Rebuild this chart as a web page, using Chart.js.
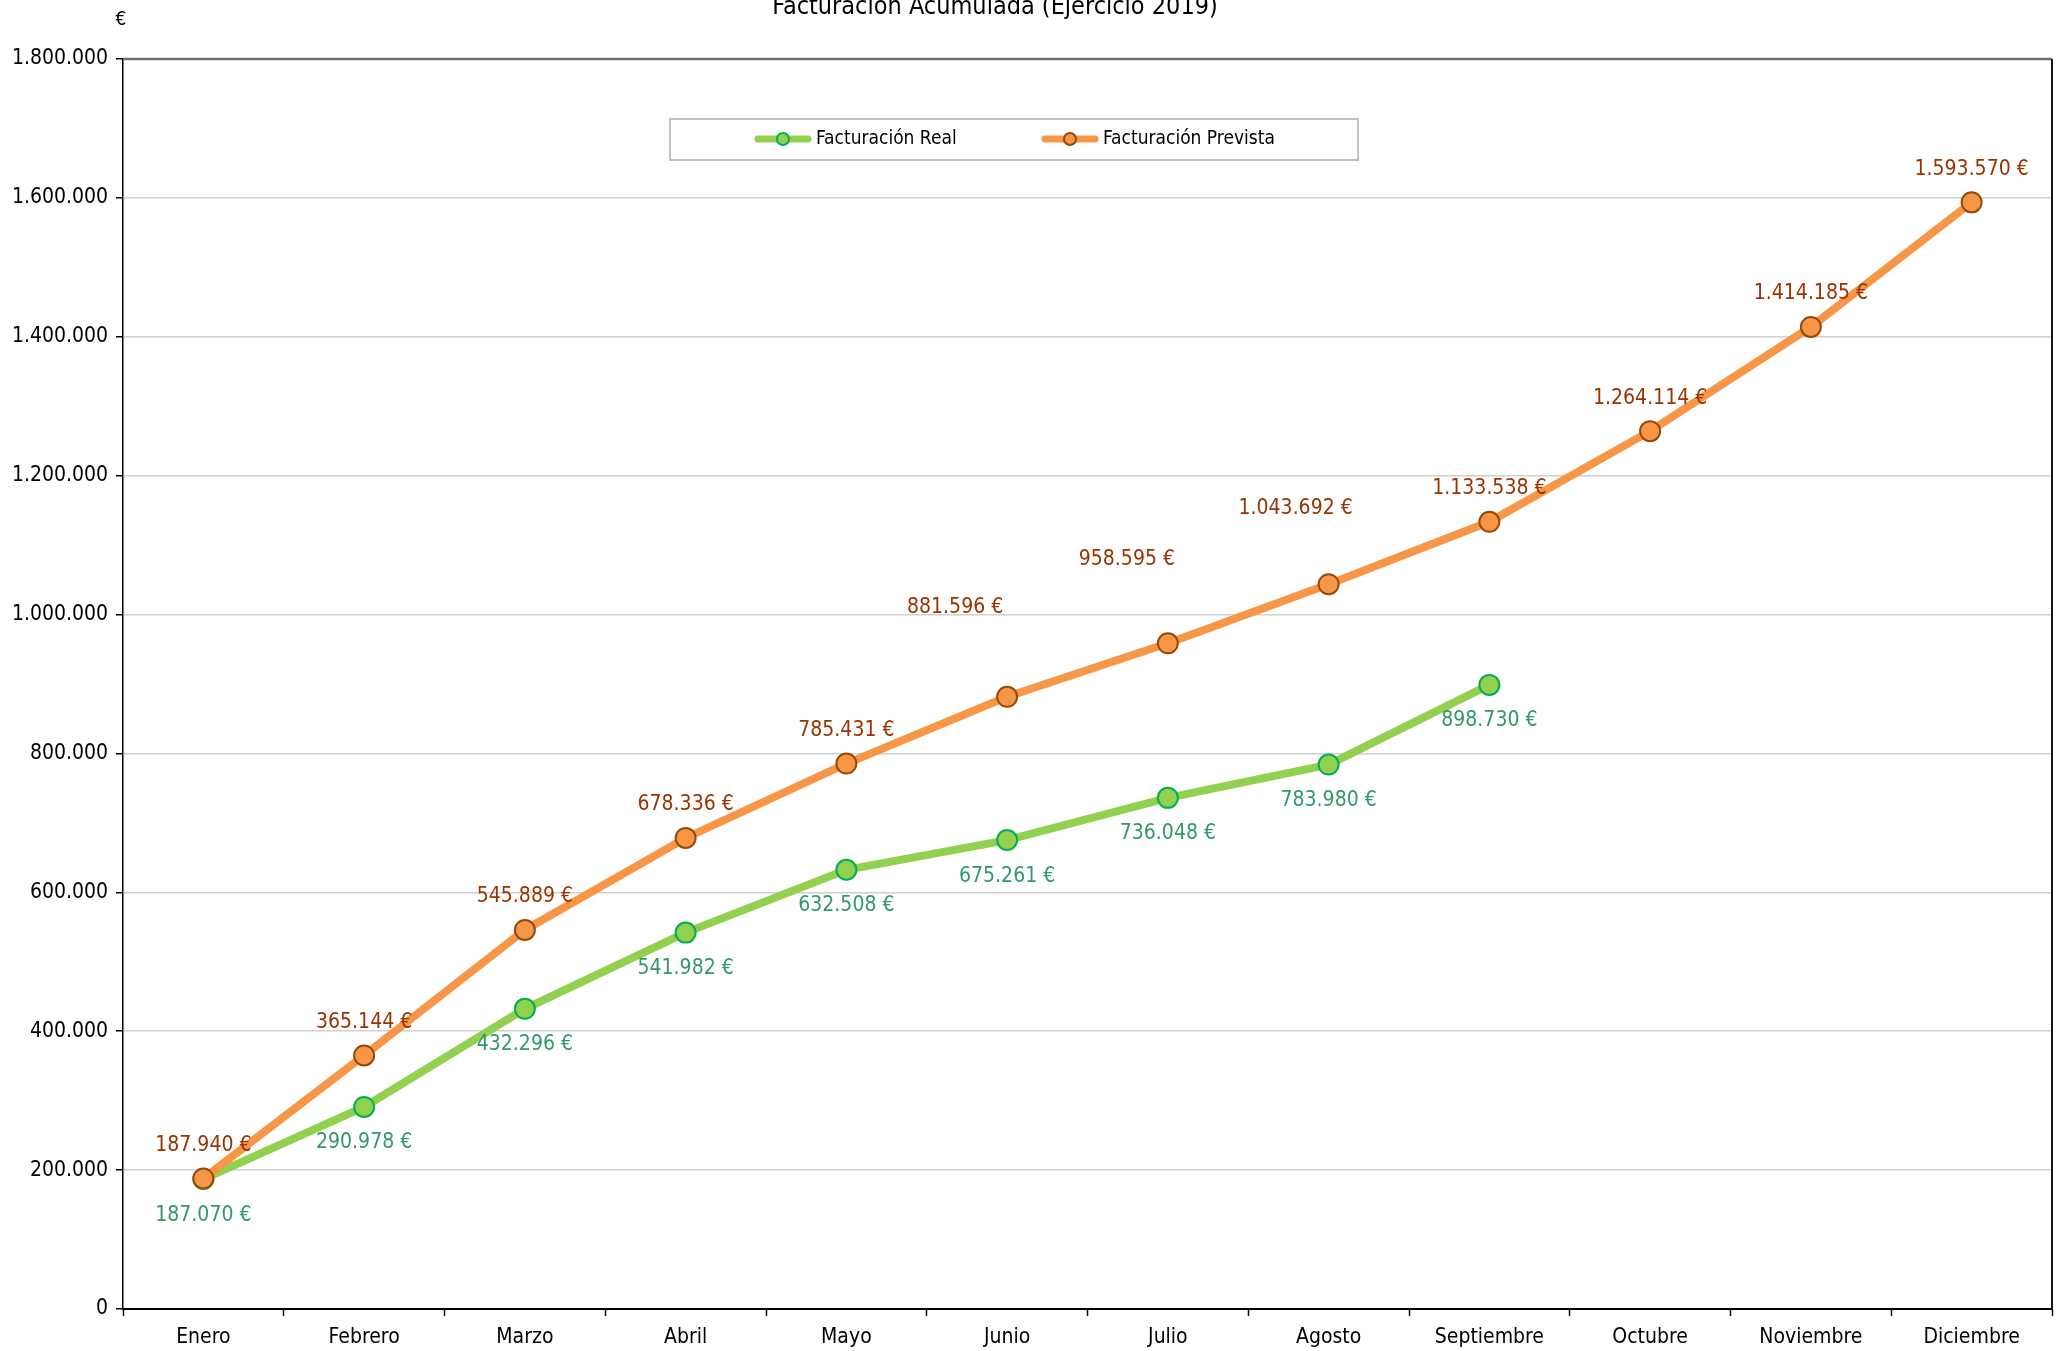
<!DOCTYPE html>
<html>
<head>
<meta charset="utf-8">
<script src="https://cdn.jsdelivr.net/npm/chart.js@4/dist/chart.umd.min.js"></script>
<style>
  html, body { margin: 0; padding: 0; background: #fff; }
  #wrap { width: 2067px; height: 1351px; }
</style>
</head>
<body>
<div id="wrap"><canvas id="chart" width="2067" height="1351"></canvas></div>
<script>
'use strict'
const FONT = '"DejaVu Sans Condensed", "DejaVu Sans", "Liberation Sans", sans-serif'

const meses = ['Enero', 'Febrero', 'Marzo', 'Abril', 'Mayo', 'Junio', 'Julio', 'Agosto', 'Septiembre', 'Octubre', 'Noviembre', 'Diciembre']
const real = [187070, 290978, 432296, 541982, 632508, 675261, 736048, 783980, 898730, null, null, null]
const prevista = [187940, 365144, 545889, 678336, 785431, 881596, 958595, 1043692, 1133538, 1264114, 1414185, 1593570]

// label offsets relative to point (some labels were moved by hand in the original)
const offReal = meses.map(() => [0, 36])
const offPrev = meses.map(() => [0, -33])
offPrev[5] = [-52, -89]
offPrev[6] = [-41, -84]
offPrev[7] = [-33, -76]

const miles = v => String(Math.round(v)).replace(/\B(?=(\d{3})+(?!\d))/g, '.')

const extras = {
  id: 'extras',
  afterDatasetsDraw(chart) {
    const c = chart.ctx
    const a = chart.chartArea
    c.save()
    // plot border top / right
    c.strokeStyle = '#707070'
    c.lineWidth = 2.5
    c.beginPath(); c.moveTo(a.left, a.top); c.lineTo(a.right, a.top); c.stroke()
    c.strokeStyle = '#1a1a1a'
    c.lineWidth = 2
    c.beginPath(); c.moveTo(a.right, a.top); c.lineTo(a.right, a.bottom); c.stroke()

    // data labels
    c.font = '21px ' + FONT
    c.textAlign = 'center'
    c.textBaseline = 'middle'
    const sets = [[0, '#339966', offReal], [1, '#993300', offPrev]]
    sets.forEach(([i, col, off]) => {
      const ds = chart.data.datasets[i]
      chart.getDatasetMeta(i).data.forEach((p, j) => {
        if (ds.data[j] == null) return
        c.fillStyle = col
        c.fillText(miles(ds.data[j]) + ' €', p.x + off[j][0], p.y + off[j][1])
      })
    })

    // title and unit
    c.fillStyle = '#000'
    c.textBaseline = 'alphabetic'
    c.font = '25px ' + FONT
    c.fillText('Facturación Acumulada (Ejercicio 2019)', 995, 14)
    c.font = '19px ' + FONT
    c.textBaseline = 'middle'
    c.fillText('€', 121, 20)

    // legend
    c.fillStyle = '#fff'
    c.fillRect(670, 119, 688, 41)
    c.strokeStyle = '#c0c0c0'
    c.lineWidth = 2
    c.strokeRect(670, 119, 688, 41)
    const items = [
      ['Facturación Real', '#92d050', '#00b050', 758],
      ['Facturación Prevista', '#f79646', '#984807', 1045],
    ]
    items.forEach(([txt, line, edge, x]) => {
      const y = 139
      c.strokeStyle = line
      c.lineWidth = 7
      c.lineCap = 'round'
      c.beginPath(); c.moveTo(x, y); c.lineTo(x + 50, y); c.stroke()
      c.fillStyle = line
      c.strokeStyle = edge
      c.lineWidth = 2
      c.beginPath(); c.arc(x + 25, y, 6, 0, Math.PI * 2); c.fill(); c.stroke()
      c.fillStyle = '#000'
      c.textAlign = 'left'
      c.font = '19px ' + FONT
      c.fillText(txt, x + 58, y)
    })
    c.restore()
  },
}

const ctx = document.getElementById('chart').getContext('2d')

const data = {
  labels: meses,
  datasets: [
    {
      label: 'Facturación Real',
      data: real,
      borderColor: '#92d050',
      backgroundColor: '#92d050',
      borderWidth: 8,
      pointRadius: 10,
      pointBorderWidth: 2,
      pointBorderColor: '#00b050',
      pointBackgroundColor: '#92d050',
      order: 1,
      spanGaps: false,
    },
    {
      label: 'Facturación Prevista',
      data: prevista,
      borderColor: '#f79646',
      backgroundColor: '#f79646',
      borderWidth: 8,
      pointRadius: 10,
      pointBorderWidth: 2,
      pointBorderColor: '#984807',
      pointBackgroundColor: '#f79646',
      order: 0,
    },
  ],
}

const config = {
  type: 'line',
  data: data,
  plugins: [extras],
  options: {
    responsive: false,
    animation: false,
    maintainAspectRatio: false,
    layout: { padding: { top: 59, right: 15, left: 0, bottom: 0 } },
    scales: {
      x: {
        offset: true,
        grid: {
          offset: true,
          drawOnChartArea: false,
          drawTicks: true,
          tickLength: 7,
          tickColor: '#000',
          tickWidth: 1.5,
        },
        border: { color: '#000', width: 2 },
        ticks: { color: '#000', font: { family: FONT, size: 21 }, padding: 9, maxRotation: 0, autoSkip: false },
        afterFit(s) { s.height = 42 },
      },
      y: {
        min: 0,
        max: 1800000,
        grid: {
          color: '#d0d0d0',
          lineWidth: 1.5,
          tickLength: 7,
          tickColor: '#000',
          tickWidth: 1.5,
        },
        border: { color: '#000', width: 1.5 },
        ticks: {
          stepSize: 200000,
          color: '#000',
          font: { family: FONT, size: 21 },
          padding: 8,
          callback: v => miles(v),
        },
        afterFit(s) { s.width = 123 },
      },
    },
    plugins: {
      legend: { display: false },
      tooltip: { enabled: false },
      title: { display: false },
    },
  },
}

const chart = new Chart(ctx, config)
</script>
</body>
</html>
